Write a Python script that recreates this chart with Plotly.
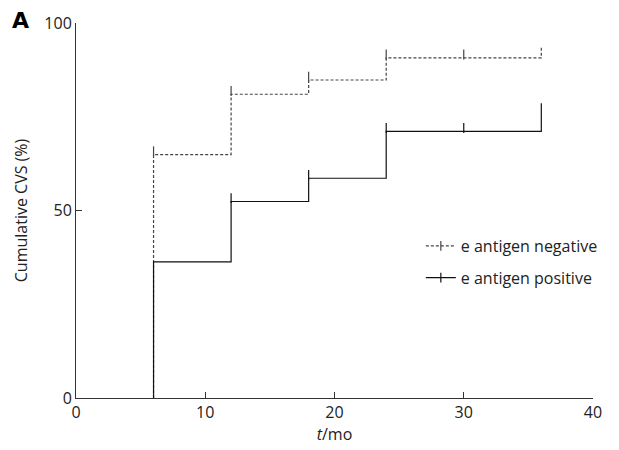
import plotly.graph_objects as go

# Data
neg_times = [6, 12, 18, 24, 36]
neg_values = [64.9, 81.0, 84.8, 90.7, 93.9]
neg_censor_t = [6, 12, 18, 24, 30]
neg_censor_v = [64.9, 81.0, 84.8, 90.7, 90.7]

pos_times = [6, 12, 18, 24, 36]
pos_values = [36.3, 52.4, 58.6, 71.1, 78.6]
pos_censor_t = [12, 18, 24, 30]
pos_censor_v = [52.4, 58.6, 71.1, 71.1]

x_ticks = [0, 10, 20, 30, 40]
y_ticks = [0, 50, 100]

FONT = "Open Sans"
INK = "#222222"
tick_off = 0.9  # censor tick sits just above the step

fig = go.Figure()

def add_series(times, values, ct, cv, name, dash, color, grp):
    xs = [times[0]] + times
    ys = [0] + values
    fig.add_trace(go.Scatter(x=xs, y=ys, mode="lines", line_shape="hv",
                             line=dict(color=color, width=1.2, dash=dash),
                             showlegend=False, hoverinfo="skip"))
    fig.add_trace(go.Scatter(x=ct, y=[v + tick_off for v in cv], mode="markers",
                             marker=dict(symbol="line-ns", size=7,
                                         line=dict(color=color, width=1.2)),
                             showlegend=False, hoverinfo="skip"))
    fig.add_trace(go.Scatter(x=[None], y=[None], mode="lines+markers", name=name,
                             legendgroup=grp,
                             line=dict(color=color, width=1.2, dash=dash),
                             marker=dict(symbol="line-ns", size=7,
                                         line=dict(color=color, width=1.2))))

add_series(neg_times, neg_values, neg_censor_t, neg_censor_v,
           "e antigen negative", "3px,2px", "#444444", "a")
add_series(pos_times, pos_values, pos_censor_t, pos_censor_v,
           "e antigen positive", "solid", "#111111", "b")

fig.update_layout(
    width=619, height=450,
    margin=dict(l=76, r=26, t=21, b=52),
    paper_bgcolor="white", plot_bgcolor="white",
    font=dict(family=FONT, size=15, color=INK),
    legend=dict(x=0.667, y=0.363, xanchor="left", yanchor="middle",
                bgcolor="rgba(0,0,0,0)", font=dict(size=16),
                tracegroupgap=8),
    xaxis=dict(range=[0, 40], tickvals=x_ticks, ticks="inside", ticklen=6,
               showline=True, linecolor="#333333", linewidth=1,
               tickcolor="#333333", showgrid=False, zeroline=False,
               title=dict(text="<i>t</i>/mo", standoff=4, font=dict(size=16)),
               tickfont=dict(size=16)),
    yaxis=dict(range=[0, 100], tickvals=y_ticks, ticks="inside", ticklen=6,
               showline=True, linecolor="#333333", linewidth=1,
               tickcolor="#333333", showgrid=False, zeroline=False,
               title=dict(text="Cumulative CVS (%)", standoff=12, font=dict(size=16)),
               tickfont=dict(size=16)),
    annotations=[dict(text="<b>A</b>", x=-66/517, y=1.045, xref="paper", yref="paper",
                      xanchor="left", yanchor="top", showarrow=False,
                      font=dict(size=22, family="DejaVu Sans", color="black"))]
)

fig.write_html("out.html", config={"displayModeBar": False},
               post_script="document.body.style.margin='0';")
